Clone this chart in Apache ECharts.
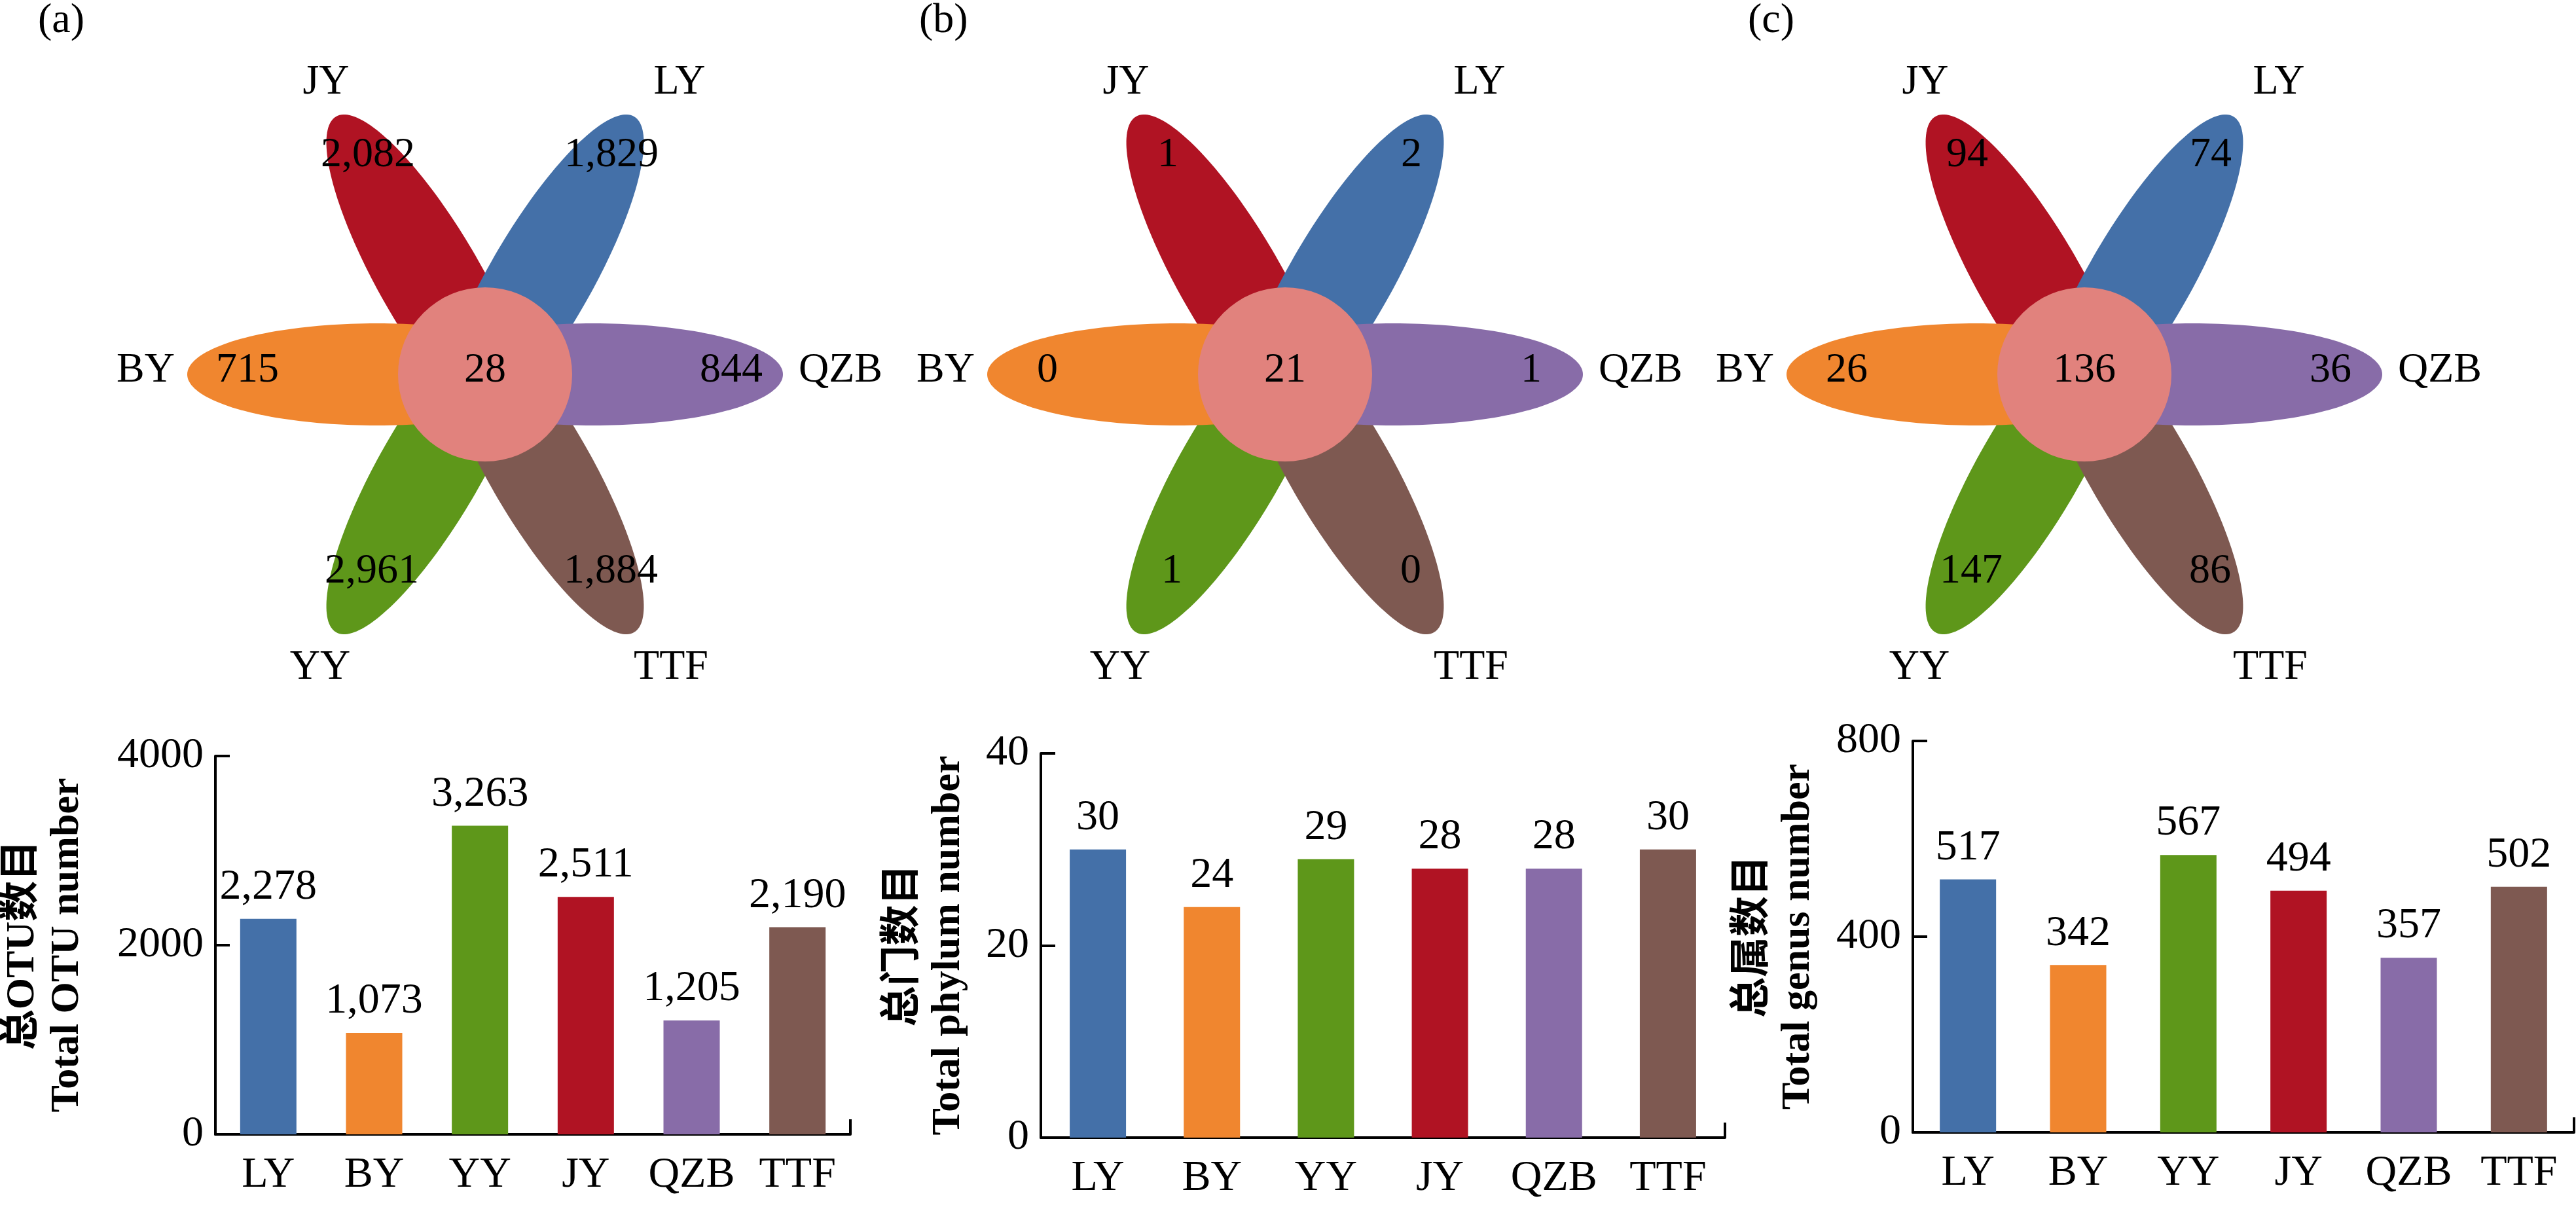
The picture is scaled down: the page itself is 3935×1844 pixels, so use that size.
<!DOCTYPE html>
<html>
<head>
<meta charset="utf-8">
<script src="https://cdn.jsdelivr.net/npm/echarts@6.0.0/dist/echarts.min.js"></script>
<style>html,body{margin:0;padding:0;background:#fff;overflow:hidden;}#c{width:3935px;height:1844px;}</style>
</head>
<body>
<div id="c"></div>
<script>
// ---------------- data ----------------
const petalNames = ['JY', 'LY', 'YY', 'TTF', 'BY', 'QZB'];      // petals (draw order)
const otuUnique = [2082, 1829, 2961, 1884, 715, 844];
const otuCore = 28;
const phylumUnique = [1, 2, 1, 0, 0, 1];
const phylumCore = 21;
const genusUnique = [94, 74, 147, 86, 26, 36];
const genusCore = 136;

const barCategories = ['LY', 'BY', 'YY', 'JY', 'QZB', 'TTF'];
const otuTotal = [2278, 1073, 3263, 2511, 1205, 2190];
const phylumTotal = [30, 24, 29, 28, 28, 30];
const genusTotal = [517, 342, 567, 494, 357, 502];

const panelTags = ['(a)', '(b)', '(c)'];
const yNames = ['总OTU数目\nTotal OTU number', '总门数目\nTotal phylum number', '总属数目\nTotal genus number'];

// ---------------- style / layout ----------------
const FONT = "'Liberation Serif', 'Times New Roman', 'Noto Sans CJK SC', serif";
const FS = 64;      // flower text
const FSB = 66;     // bar chart text
const colorOf = {LY: '#4470a8', BY: '#f0862f', YY: '#5e971a', JY: '#b01323', QZB: '#886ca8', TTF: '#7e5951'};
const coreColor = '#e1827d';
// petal geometry in flower-grid units (1 unit = 1 px)
const petalGeom = {offset: 165, a: 290, b: 78, coreR: 133};
const petalLayout = {
  JY:  {angle: 120, name: [-243, 446], nameAlign: 'center', num: [-179, 335]},
  LY:  {angle: 60,  name: [297, 446],  nameAlign: 'center', num: [193, 335]},
  YY:  {angle: 240, name: [-252, -448], nameAlign: 'center', num: [-173, -301]},
  TTF: {angle: 300, name: [284, -448], nameAlign: 'center', num: [192, -301]},
  BY:  {angle: 180, name: [-474, 6],   nameAlign: 'right',  num: [-363, 6]},
  QZB: {angle: 0,   name: [479, 6],    nameAlign: 'left',   num: [376, 6]}
};
const flowerCenters = [[741, 572], [1963, 572], [3184, 572]];
const FL = 500;
const barGrids = [
  {left: 317, top: 1155, width: 982, height: 578},
  {left: 1590, top: 1151, width: 1045, height: 587},
  {left: 2922, top: 1132, width: 1010, height: 598}
];
const yMaxes = [4000, 40, 800];
const yIntervals = [2000, 20, 400];
const nameGaps = [192, 107, 141];
const tagLefts = [58, 1404, 2670];

const fmt = v => Number(v).toLocaleString('en-US');

const grid = [], xAxis = [], yAxis = [], series = [], title = [];

function flowerRender(params, api) {
  const idx = api.value(3);
  const v = api.value(2);
  const c = api.coord([0, 0]);
  const txt = (p, s, align) => ({
    type: 'text', x: p[0], y: p[1], z2: 50,
    style: {text: s, fill: '#000', fontSize: FS, fontFamily: FONT, align: align || 'center', verticalAlign: 'middle'}
  });
  if (idx < 0) {
    const r = api.size([petalGeom.coreR, 0])[0];
    return {type: 'group', children: [
      {type: 'circle', shape: {cx: c[0], cy: c[1], r: r}, style: {fill: coreColor}, z2: 20},
      txt(api.coord([0, 6]), fmt(v))
    ]};
  }
  const name = petalNames[idx];
  const L = petalLayout[name];
  const th = L.angle * Math.PI / 180;
  const pts = [];
  for (let k = 0; k < 180; k++) {
    const t = k / 180 * Math.PI * 2;
    const lx = petalGeom.offset + petalGeom.a * Math.cos(t);
    const ly = petalGeom.b * Math.sin(t);
    pts.push(api.coord([lx * Math.cos(th) - ly * Math.sin(th), lx * Math.sin(th) + ly * Math.cos(th)]));
  }
  return {type: 'group', children: [
    {type: 'polygon', shape: {points: pts}, style: {fill: colorOf[name]}},
    txt(api.coord(L.num), fmt(v)),
    txt(api.coord(L.name), name, L.nameAlign)
  ]};
}

const flowerSets = [[otuUnique, otuCore], [phylumUnique, phylumCore], [genusUnique, genusCore]];
const totals = [otuTotal, phylumTotal, genusTotal];

for (let p = 0; p < 3; p++) {
  // flower grid
  const fc = flowerCenters[p];
  const gF = grid.length;
  grid.push({left: fc[0] - FL, top: fc[1] - FL, width: 2 * FL, height: 2 * FL, containLabel: false});
  const xF = xAxis.length; xAxis.push({type: 'value', gridIndex: gF, min: -FL, max: FL, show: false});
  const yF = yAxis.length; yAxis.push({type: 'value', gridIndex: gF, min: -FL, max: FL, show: false});
  const uniq = flowerSets[p][0];
  const data = petalNames.map((n, i) => [0, 0, uniq[i], i]).concat([[0, 0, flowerSets[p][1], -1]]);
  series.push({type: 'custom', xAxisIndex: xF, yAxisIndex: yF, silent: true, clip: false,
    renderItem: flowerRender, data: data, encode: {x: 0, y: 1}});

  // bar grid
  const gB = grid.length;
  grid.push(Object.assign({containLabel: false}, barGrids[p]));
  const xB = xAxis.length;
  xAxis.push({
    type: 'category', gridIndex: gB, data: barCategories,
    axisLine: {lineStyle: {color: '#000', width: 4}},
    axisTick: {inside: true, alignWithLabel: true, length: 23, lineStyle: {color: '#000', width: 4}},
    axisLabel: {color: '#000', fontSize: FSB, fontFamily: FONT, margin: 30, interval: 0}
  });
  xAxis.push({
    type: 'value', gridIndex: gB, min: 0, max: 1, interval: 1, position: 'bottom',
    axisLine: {show: false}, splitLine: {show: false}, axisLabel: {show: false},
    axisTick: {show: true, inside: true, length: 23, lineStyle: {color: '#000', width: 4}}
  });
  const yB = yAxis.length;
  yAxis.push({
    type: 'value', gridIndex: gB, min: 0, max: yMaxes[p], interval: yIntervals[p],
    axisLine: {show: true, lineStyle: {color: '#000', width: 4}},
    axisTick: {show: true, inside: true, length: 22, lineStyle: {color: '#000', width: 4}},
    splitLine: {show: false},
    axisLabel: {color: '#000', fontSize: FSB, fontFamily: FONT, margin: 18, formatter: v => String(v)},
    name: yNames[p], nameLocation: 'middle', nameGap: nameGaps[p],
    nameTextStyle: {color: '#000', fontSize: 62, fontFamily: FONT, fontWeight: 'bold', lineHeight: 68, align: 'center'}
  });
  series.push({
    type: 'bar', xAxisIndex: xB, yAxisIndex: yB, barWidth: 86, silent: true,
    data: totals[p].map((v, i) => ({value: v, itemStyle: {color: colorOf[barCategories[i]]}})),
    label: {show: true, position: 'top', distance: 15, color: '#000', fontSize: FSB, fontFamily: FONT,
      formatter: q => fmt(q.value)}
  });
  title.push({text: panelTags[p], left: tagLefts[p], top: 0, padding: 0,
    textStyle: {color: '#000', fontSize: FS, fontFamily: FONT, fontWeight: 'normal'}});
}

const chart = echarts.init(document.getElementById('c'), null, {renderer: 'canvas'});
chart.setOption({animation: false, backgroundColor: '#fff', title, grid, xAxis, yAxis, series});
</script>
</body>
</html>
